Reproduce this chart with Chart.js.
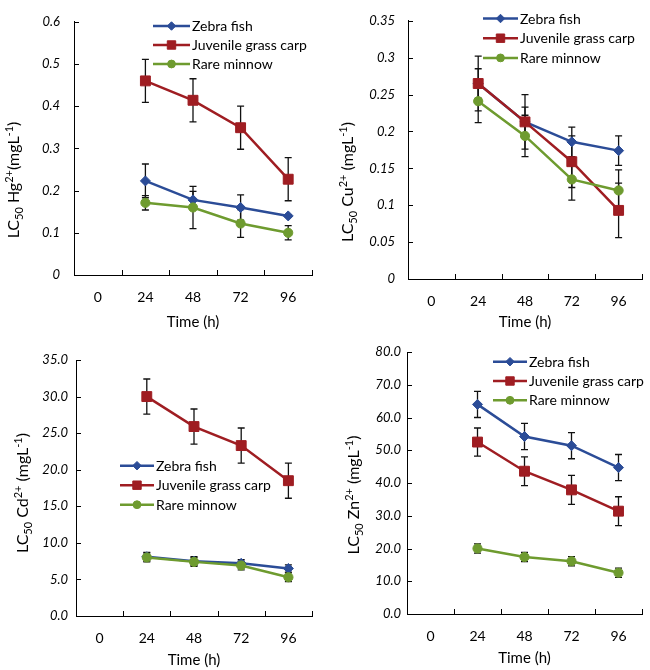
<!DOCTYPE html>
<html><head><meta charset="utf-8">
<script src="https://cdn.jsdelivr.net/npm/chart.js@4.4.1/dist/chart.umd.min.js"></script>
<style>
html,body{margin:0;padding:0;background:#fff;}
#wrap{position:relative;width:650px;height:670px;overflow:hidden;font-family:Lato,'Open Sans',sans-serif;}
.panel{position:absolute;width:325px;height:335px;}
.ytitle{position:absolute;white-space:nowrap;font-size:16px;color:#000;transform:translate(-50%,-50%) rotate(-90deg);line-height:1;font-family:Lato,'Open Sans',sans-serif;}
.ytitle sub,.ytitle sup{font-size:11px;line-height:0;}
</style></head><body>
<div id="wrap">
  <div class="panel" style="left:0;top:0"><canvas id="c1" width="325" height="335"></canvas></div>
  <div class="panel" style="left:325px;top:0"><canvas id="c2" width="325" height="335"></canvas></div>
  <div class="panel" style="left:0;top:335px"><canvas id="c3" width="325" height="335"></canvas></div>
  <div class="panel" style="left:325px;top:335px"><canvas id="c4" width="325" height="335"></canvas></div>
  <div class="ytitle" style="left:13px;top:180px">LC<sub>50</sub> Hg<sup>2+</sup>(mgL<sup>-1</sup>)</div>
  <div class="ytitle" style="left:347px;top:182px">LC<sub>50</sub> Cu<sup>2+</sup> (mgL<sup>-1</sup>)</div>
  <div class="ytitle" style="left:22px;top:493px">LC<sub>50</sub> Cd<sup>2+</sup> (mgL<sup>-1</sup>)</div>
  <div class="ytitle" style="left:353px;top:495px">LC<sub>50</sub> Zn<sup>2+</sup> (mgL<sup>-1</sup>)</div>
</div>
<script>
// ---- data ----
const timeLabels = ['0','24','48','72','96'];
const seriesNames = ['Zebra fish','Juvenile grass carp','Rare minnow'];
const xTitle = 'Time (h)';

// Hg2+
const hgZebra     = [null,0.223,0.178,0.160,0.140];
const hgZebraErr  = [null,0.040,0.020,0.030,0.003];
const hgCarp      = [null,0.460,0.414,0.349,0.227];
const hgCarpErr   = [null,0.051,0.051,0.051,0.051];
const hgMinnow    = [null,0.171,0.160,0.122,0.100];
const hgMinnowErr = [null,0.017,0.050,0.033,0.017];
const hgAxis = [0, 0.6, 0.1];   // min, max, step

// Cu2+
const cuZebra     = [null,0.265,0.213,0.186,0.174];
const cuZebraErr  = [null,0.020,0.020,0.020,0.020];
const cuCarp      = [null,0.265,0.213,0.159,0.093];
const cuCarpErr   = [null,0.037,0.037,0.035,0.037];
const cuMinnow    = [null,0.241,0.194,0.135,0.120];
const cuMinnowErr = [null,0.029,0.028,0.028,0.028];
const cuAxis = [0, 0.35, 0.05];

// Cd2+
const cdZebra     = [null,8.1,7.5,7.2,6.5];
const cdZebraErr  = [null,0.6,0.6,0.5,0.5];
const cdCarp      = [null,30.0,25.9,23.3,18.5];
const cdCarpErr   = [null,2.4,2.4,2.4,2.4];
const cdMinnow    = [null,8.0,7.4,6.9,5.3];
const cdMinnowErr = [null,0.6,0.6,0.6,0.6];
const cdAxis = [0, 35, 5];

// Zn2+
const znZebra     = [null,64.0,54.2,51.4,44.7];
const znZebraErr  = [null,4.0,4.0,4.0,4.0];
const znCarp      = [null,52.5,43.6,37.9,31.4];
const znCarpErr   = [null,4.3,4.4,4.4,4.4];
const znMinnow    = [null,20.0,17.4,16.1,12.6];
const znMinnowErr = [null,1.4,1.4,1.4,1.4];
const znAxis = [0, 80, 10];

// ---- styles ----
const COLORS = ['#2B4C97','#9F1D22','#6E9B2F'];
const POINTS = [['rectRot',5],['rect',7],['circle',4.6]];
Chart.defaults.font.family = "Lato, 'Open Sans', sans-serif";
Chart.defaults.color = '#000';

const errorBars = {
  id:'errorBars',
  beforeDatasetsDraw(chart){
    const ctx = chart.ctx, xs = chart.scales.x, ys = chart.scales.y;
    ctx.save(); ctx.strokeStyle = '#111'; ctx.lineWidth = 1.3;
    chart.data.datasets.forEach(ds => {
      ds.data.forEach((v,i) => {
        const e = ds.errs[i];
        if (v == null || !e) return;
        const px = xs.getPixelForValue(i);
        const t = ys.getPixelForValue(v+e), b = ys.getPixelForValue(v-e);
        ctx.beginPath();
        ctx.moveTo(px,t); ctx.lineTo(px,b);
        ctx.moveTo(px-3.5,t); ctx.lineTo(px+3.5,t);
        ctx.moveTo(px-3.5,b); ctx.lineTo(px+3.5,b);
        ctx.stroke();
      });
    });
    ctx.restore();
  }
};

const innerTicks = {
  id:'innerTicks',
  afterDraw(chart){
    const ctx = chart.ctx, xs = chart.scales.x, ys = chart.scales.y, ca = chart.chartArea;
    ctx.save(); ctx.strokeStyle = '#000'; ctx.lineWidth = 1;
    ctx.beginPath();
    const n = xs.ticks.length;
    const sp = xs.getPixelForTick(1) - xs.getPixelForTick(0);
    for (let i = 1; i <= n; i++) {
      const px = Math.round(xs.getPixelForTick(i-1) + sp/2) + 0.5;
      ctx.moveTo(px, ca.bottom); ctx.lineTo(px, ca.bottom - 5);
    }
    ys.ticks.forEach(t => {
      const py = Math.round(ys.getPixelForValue(t.value)) + 0.5;
      ctx.moveTo(ca.left, py); ctx.lineTo(ca.left + 5, py);
    });
    ctx.stroke();
    ctx.restore();
  }
};

const lineLegend = {
  id:'lineLegend',
  afterDraw(chart, args, o){
    const ctx = chart.ctx;
    ctx.save();
    chart.data.datasets.forEach((ds,i) => {
      const y = o.y + i*o.dy;
      ctx.strokeStyle = ds.borderColor; ctx.lineWidth = 2.5;
      ctx.beginPath(); ctx.moveTo(o.x, y); ctx.lineTo(o.x + o.len, y); ctx.stroke();
      ctx.fillStyle = ds.backgroundColor; ctx.strokeStyle = ds.borderColor; ctx.lineWidth = 1;
      Chart.helpers.drawPoint(ctx, {pointStyle: ds.pointStyle, radius: ds.pointRadius*0.85, borderWidth:1}, o.x + o.len/2, y);
      ctx.fillStyle = '#000'; ctx.font = "14px Lato, 'Open Sans', sans-serif";
      ctx.textAlign = 'left'; ctx.textBaseline = 'middle';
      ctx.fillText(ds.label, o.x + o.len + 2, y + 0.5);
    });
    ctx.restore();
  }
};

function makeChart(id, series, errs, axis, fmt, g) {
  const datasets = series.map((d,i) => ({
    label: seriesNames[i], data: d, errs: errs[i],
    borderColor: COLORS[i], backgroundColor: COLORS[i],
    borderWidth: 2.5, pointStyle: POINTS[i][0], pointRadius: POINTS[i][1],
    pointBorderWidth: 1, pointBorderColor: COLORS[i], pointBackgroundColor: COLORS[i],
    tension: 0, order: 3 - i
  }));
  return new Chart(document.getElementById(id), {
    type: 'line',
    data: { labels: timeLabels, datasets },
    options: {
      responsive: false, animation: false, events: [],
      layout: { padding: { left: 0, top: g.top, right: 325 - g.right, bottom: 0 } },
      plugins: { legend: { display: false }, tooltip: { enabled: false }, lineLegend: g.legend },
      scales: {
        x: {
          type: 'category', offset: true,
          grid: { display: true, offset: true, drawOnChartArea: false, drawTicks: false },
          border: { display: true, color: '#000', width: 1 },
          ticks: { padding: g.xpad, font: { size: 14 }, color: '#000', maxRotation: 0, autoSkip: false },
          title: { display: true, text: xTitle, font: { size: 15 }, color: '#000', padding: { top: 0, bottom: g.tpad } },
          afterFit: s => { s.height = 335 - g.bottom; }
        },
        y: {
          min: axis[0], max: axis[1],
          grid: { display: true, drawOnChartArea: false, drawTicks: false },
          border: { display: true, color: '#000', width: 1 },
          ticks: { stepSize: axis[2], padding: g.ypad, font: { size: 13, style: 'italic' }, color: '#000', callback: fmt },
          afterFit: s => { s.width = g.left; }
        }
      }
    },
    plugins: [errorBars, innerTicks, lineLegend]
  });
}

const fmtTrim = v => String(parseFloat(Number(v).toFixed(2)));
const fmtOne = v => Number(v).toFixed(1);

makeChart('c1', [hgZebra, hgCarp, hgMinnow], [hgZebraErr, hgCarpErr, hgMinnowErr], hgAxis, fmtTrim,
  { left: 74, top: 14, right: 312, bottom: 275, xpad: 14, ypad: 14, tpad: 4,
    legend: { x: 153, y: 26, dy: 19, len: 37 } });
makeChart('c2', [cuZebra, cuCarp, cuMinnow], [cuZebraErr, cuCarpErr, cuMinnowErr], cuAxis, fmtTrim,
  { left: 83, top: 9, right: 321, bottom: 279, xpad: 14, ypad: 13, tpad: 4,
    legend: { x: 158, y: 18.5, dy: 19.7, len: 35 } });
makeChart('c3', [cdZebra, cdCarp, cdMinnow], [cdZebraErr, cdCarpErr, cdMinnowErr], cdAxis, fmtOne,
  { left: 76, top: 25, right: 312, bottom: 281, xpad: 14, ypad: 8, tpad: 1,
    legend: { x: 120, y: 130.7, dy: 19.5, len: 34 } });
makeChart('c4', [znZebra, znCarp, znMinnow], [znZebraErr, znCarpErr, znMinnowErr], znAxis, fmtOne,
  { left: 82, top: 17, right: 321, bottom: 279, xpad: 14, ypad: 6, tpad: 3,
    legend: { x: 168, y: 26.7, dy: 19.3, len: 34 } });
</script>
</body></html>
